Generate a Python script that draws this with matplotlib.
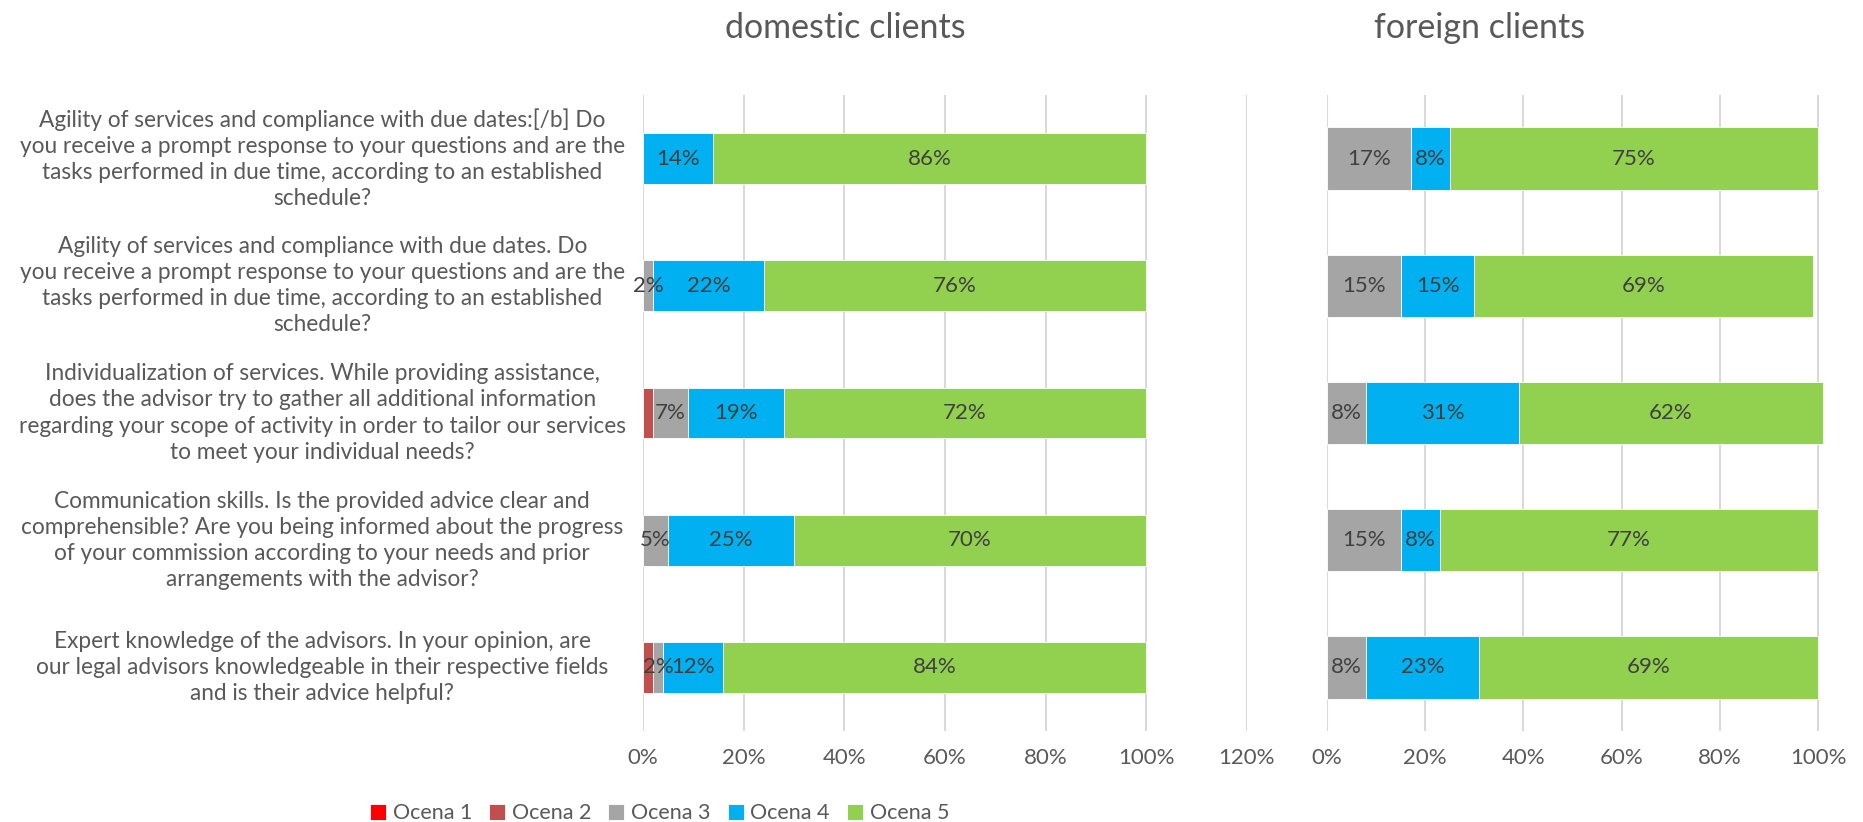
import numpy as np
import matplotlib
matplotlib.use("Agg")
from matplotlib import pyplot as plt
from matplotlib.transforms import blended_transform_factory

plt.rcParams['font.family'] = ['Lato', 'DejaVu Sans']

#%% Dane

questions = [
    "Agility of services and compliance with due dates:[/b] Do\n"
    "you receive a prompt response to your questions and are the\n"
    "tasks performed in due time, according to an established\n"
    "schedule?",
    "Agility of services and compliance with due dates. Do\n"
    "you receive a prompt response to your questions and are the\n"
    "tasks performed in due time, according to an established\n"
    "schedule?",
    "Individualization of services. While providing assistance,\n"
    "does the advisor try to gather all additional information\n"
    "regarding your scope of activity in order to tailor our services\n"
    "to meet your individual needs?",
    "Communication skills. Is the provided advice clear and\n"
    "comprehensible? Are you being informed about the progress\n"
    "of your commission according to your needs and prior\n"
    "arrangements with the advisor?",
    "Expert knowledge of the advisors. In your opinion, are\n"
    "our legal advisors knowledgeable in their respective fields\n"
    "and is their advice helpful?",
]

series = ["Ocena 1", "Ocena 2", "Ocena 3", "Ocena 4", "Ocena 5"]
colors = ["#FF0000", "#C0504D", "#A5A5A5", "#00B0F0", "#92D050"]

# klienci krajowi (%)
dom_o1 = [0, 0, 0, 0, 0]
dom_o2 = [0, 0, 2, 0, 2]
dom_o3 = [0, 2, 7, 5, 2]
dom_o4 = [14, 22, 19, 25, 12]
dom_o5 = [86, 76, 72, 70, 84]

# klienci zagraniczni (%)
for_o1 = [0, 0, 0, 0, 0]
for_o2 = [0, 0, 0, 0, 0]
for_o3 = [17, 15, 8, 15, 8]
for_o4 = [8, 15, 31, 8, 23]
for_o5 = [75, 69, 62, 77, 69]

domestic = [dom_o1, dom_o2, dom_o3, dom_o4, dom_o5]
foreign = [for_o1, for_o2, for_o3, for_o4, for_o5]

#%% Wykres

fig = plt.figure(figsize=(18.63, 8.22), dpi=100)
ax1 = fig.add_axes([0.3451, 0.1107, 0.3242, 0.7737])
ax2 = fig.add_axes([0.7123, 0.1107, 0.2689, 0.7737])

grid_c = "#D9D9D9"
txt_c = "#404040"
lbl_c = "#595959"


def stacked(ax, data, height, xmax, ticks):
    y = np.arange(len(questions))
    left = np.zeros(len(questions))
    handles = []
    for k, vals in enumerate(data):
        vals = np.array(vals, dtype=float)
        bars = ax.barh(y, vals, left=left, height=height, color=colors[k],
                       edgecolor="white", linewidth=0.6, label=series[k], zorder=3)
        handles.append(bars)
        if k >= 2:
            labels = ["%d%%" % v if v > 0 else "" for v in vals]
            txts = ax.bar_label(bars, labels=labels, label_type="center",
                                fontsize=16, color=txt_c)
            for t in txts:
                t.set_zorder(6)
        left += vals
    ax.set_xlim(0, xmax)
    ax.set_ylim(len(questions) - 0.5, -0.5)
    ax.set_xticks(ticks)
    ax.set_xticklabels(["%d%%" % t for t in ticks])
    ax.tick_params(axis="x", length=0, labelsize=16, labelcolor=lbl_c, pad=12)
    ax.set_yticks([])
    for s in ax.spines.values():
        s.set_visible(False)
    for t in ticks:
        ax.axvline(t, color=grid_c, lw=1.5, zorder=1)
    return handles


handles = stacked(ax1, domestic, 0.4, 120, [0, 20, 40, 60, 80, 100, 120])
stacked(ax2, foreign, 0.49, 102, [0, 20, 40, 60, 80, 100])

trans = blended_transform_factory(fig.transFigure, ax1.transData)
for i, q in enumerate(questions):
    ax1.text(0.173, i, q, transform=trans, ha="center", va="center",
             multialignment="center", fontsize=16.3, color=lbl_c, linespacing=1.3)

fig.text(0.454, 0.966, "domestic clients", ha="center", va="center",
         fontsize=24.5, color=lbl_c)
fig.text(0.794, 0.966, "foreign clients", ha="center", va="center",
         fontsize=24.5, color=lbl_c)

fig.legend(handles, series, loc="lower center", bbox_to_anchor=(0.354, -0.025),
           ncol=5, frameon=False, fontsize=15.5, labelcolor=lbl_c,
           handlelength=0.75, handleheight=0.75, handletextpad=0.3, columnspacing=0.8)

fig.savefig("out.png", dpi=100)
